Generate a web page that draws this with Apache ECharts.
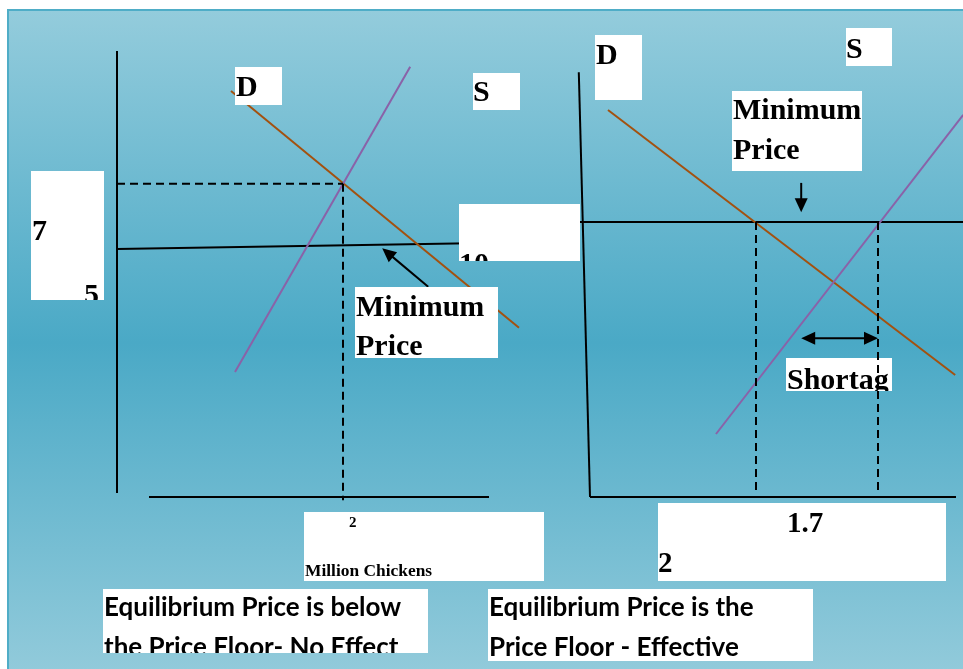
<!DOCTYPE html>
<html>
<head>
<meta charset="utf-8">
<script src="https://cdn.jsdelivr.net/npm/echarts@6/dist/echarts.min.js"></script>
<style>
html,body{margin:0;padding:0;background:#ffffff;}
#chart{width:963px;height:669px;}
</style>
</head>
<body>
<div id="chart"></div>
<script>
// ---------- DATA (axis units: quantity on x, price on y) ----------
// Left panel: price floor set below the equilibrium price (no effect)
const leftPriceAxisLine    = [[0, 0.09], [0, 9.91]];
const leftQuantityAxisLine = [[0.8, 0], [9.3, 0]];
const leftDemand           = [[2.85, 9.02], [10.05, 3.76]];
const leftSupply           = [[2.95, 2.78], [7.33, 9.56]];
const leftFloor            = [[0, 5.51], [8.83, 5.64]];
const leftEquilibrium      = [5.65, 6.96];          // [quantity, price]
const leftFloorArrow       = [7.78, 4.67, 6.63, 5.53];

// Right panel: price floor set above the equilibrium price (effective)
const rightPriceAxisLine    = [[-0.28, 9.44], [0, 0]];
const rightQuantityAxisLine = [[0, 0], [9.15, 0]];
const rightDemand           = [[0.45, 8.6], [9.13, 2.71]];
const rightSupply           = [[3.15, 1.4], [9.33, 8.49]];
const rightFloorPrice       = 6.11;
const rightFloorSpan        = [-0.25, 9.33];
const rightQuantityDemanded = 4.15;
const rightQuantitySupplied = 7.2;
const rightFloorArrow       = [5.28, 6.98, 5.28, 6.33];
const shortageArrow         = [5.28, 3.53, 7.2, 3.53];

// Texts
const curveLabels        = ['D', 'S'];
const leftPriceTicks     = ['7', '5'];
const leftFloorTick      = '10';
const leftQuantityTick   = '2';
const quantityUnit       = 'Million Chickens';
const floorLabelLines    = ['Minimum', 'Price'];
const shortageLabel      = 'Shortag';
const rightQuantityTicks = ['1.7', '2'];
const captionLeft        = ['Equilibrium Price is below', 'the Price Floor- No Effect'];
const captionRight       = ['Equilibrium Price is the', 'Price Floor - Effective'];

// ---------- LAYOUT ----------
const FONTS = {
  serif: {family: '"Liberation Serif", "Times New Roman", serif', mid: 0.234},
  sans:  {family: 'Lato, "Open Sans", sans-serif', mid: 0.31}
};
function txt(text, x, base, size, fam) { return {text, x, base, size, fam: fam || 'serif'}; }

const boxes = [
  // left panel
  {x: 235, y: 67,  w: 47,  h: 38,  texts: [txt(curveLabels[0], 236, 95, 30)]},
  {x: 473, y: 73,  w: 47,  h: 37,  texts: [txt(curveLabels[1], 473, 100, 30)]},
  {x: 31,  y: 171, w: 73,  h: 129, texts: [txt(leftPriceTicks[0], 32, 239, 30), txt(leftPriceTicks[1], 84, 303, 30)]},
  {x: 459, y: 204, w: 121, h: 57,  texts: [txt(leftFloorTick, 459, 272, 30)]},
  {x: 355, y: 287, w: 143, h: 71,  texts: [txt(floorLabelLines[0], 356, 315, 30), txt(floorLabelLines[1], 356, 354, 30)]},
  {x: 304, y: 512, w: 240, h: 69,  texts: [txt(leftQuantityTick, 349, 527, 15), txt(quantityUnit, 305, 576, 17.4)]},
  {x: 103, y: 589, w: 325, h: 64,  texts: [txt(captionLeft[0], 104, 616, 26, 'sans'), txt(captionLeft[1], 104, 656, 26, 'sans')]},
  // right panel
  {x: 595, y: 35,  w: 47,  h: 65,  texts: [txt(curveLabels[0], 596, 63, 30)]},
  {x: 846, y: 28,  w: 46,  h: 38,  texts: [txt(curveLabels[1], 846, 57, 30)]},
  {x: 732, y: 91,  w: 130, h: 80,  texts: [txt(floorLabelLines[0], 733, 118, 30), txt(floorLabelLines[1], 733, 158, 30)]},
  {x: 786, y: 358, w: 106, h: 33,  texts: [txt(shortageLabel, 787, 388, 30)]},
  {x: 658, y: 503, w: 288, h: 78,  texts: [txt(rightQuantityTicks[0], 787, 531, 29), txt(rightQuantityTicks[1], 658, 571, 29)]},
  {x: 488, y: 589, w: 325, h: 72,  texts: [txt(captionRight[0], 489, 616, 26, 'sans'), txt(captionRight[1], 489, 656, 26, 'sans')]}
];

const DEMAND_COLOR = '#A3510F';
const SUPPLY_COLOR = '#8A62A8';
const INK = '#000000';
const DASH = [8, 5];

function lineSeries(data, grid, color, dashed, z) {
  return {
    type: 'line', data: data, xAxisIndex: grid, yAxisIndex: grid,
    symbol: 'none', showSymbol: false, clip: false, silent: true, animation: false,
    z: z || 2,
    lineStyle: {color: color, width: 2, type: dashed ? DASH : 'solid'},
    emphasis: {disabled: true}
  };
}

function arrowRenderer(doubleHead) {
  return function (params, api) {
    const a = api.coord([api.value(0), api.value(1)]);
    const b = api.coord([api.value(2), api.value(3)]);
    const dx = b[0] - a[0], dy = b[1] - a[1];
    const len = Math.hypot(dx, dy) || 1;
    const ux = dx / len, uy = dy / len, nx = -uy, ny = ux;
    const L = 14, W = 6.5;
    function head(tip, sx, sy) {
      return {
        type: 'polygon',
        shape: {points: [
          [tip[0], tip[1]],
          [tip[0] - sx * L + nx * W, tip[1] - sy * L + ny * W],
          [tip[0] - sx * L - nx * W, tip[1] - sy * L - ny * W]
        ]},
        style: {fill: INK}
      };
    }
    const start = doubleHead ? [a[0] + ux * L * 0.8, a[1] + uy * L * 0.8] : a;
    const end = [b[0] - ux * L * 0.8, b[1] - uy * L * 0.8];
    const children = [
      {type: 'line', shape: {x1: start[0], y1: start[1], x2: end[0], y2: end[1]}, style: {stroke: INK, lineWidth: 2}},
      head(b, ux, uy)
    ];
    if (doubleHead) children.push(head(a, -ux, -uy));
    return {type: 'group', children: children};
  };
}

function arrowSeries(items, grid, doubleHead) {
  return {
    type: 'custom', coordinateSystem: 'cartesian2d', xAxisIndex: grid, yAxisIndex: grid,
    data: items, dimensions: ['x1', 'y1', 'x2', 'y2'],
    encode: {x: [0, 2], y: [1, 3]},
    renderItem: arrowRenderer(doubleHead), silent: true, animation: false, z: 4, clip: false
  };
}

function renderBox(params, api) {
  const b = boxes[params.dataIndex];
  const children = [{type: 'rect', shape: {x: b.x, y: b.y, width: b.w, height: b.h}, style: {fill: '#ffffff'}}];
  b.texts.forEach(function (t) {
    const f = FONTS[t.fam];
    children.push({
      type: 'text',
      x: t.x,
      y: t.base - f.mid * t.size,
      style: {
        text: t.text,
        font: 'bold ' + t.size + 'px ' + f.family,
        fill: INK,
        align: 'left', verticalAlign: 'middle',
        textAlign: 'left', textVerticalAlign: 'middle',
        lineHeight: t.size
      }
    });
  });
  return {
    type: 'group',
    clipPath: {type: 'rect', shape: {x: b.x, y: b.y, width: b.w, height: b.h}},
    children: children
  };
}

const axisHidden = {show: false};
function valueAxis(gridIndex, min, max) {
  return {type: 'value', gridIndex: gridIndex, min: min, max: max, show: false,
          splitLine: axisHidden, axisLine: axisHidden, axisTick: axisHidden, axisLabel: axisHidden};
}

const chart = echarts.init(document.getElementById('chart'), null, {renderer: 'canvas'});
chart.setOption({
  animation: false,
  backgroundColor: '#ffffff',
  graphic: {elements: [{
    type: 'rect', z: 0, silent: true,
    shape: {x: 8, y: 10, width: 962, height: 666},
    style: {
      fill: new echarts.graphic.LinearGradient(0, 0, 0, 1, [
        {offset: 0, color: '#94CCDC'},
        {offset: 0.5, color: '#4AA9C6'},
        {offset: 1, color: '#93CBDB'}
      ]),
      stroke: '#4FADC7', lineWidth: 2
    }
  }]},
  grid: [
    {left: 77,  top: 2, width: 480, height: 540, outerBoundsMode: 'none', containLabel: false},
    {left: 550, top: 2, width: 480, height: 540, outerBoundsMode: 'none', containLabel: false}
  ],
  xAxis: [valueAxis(0, -1, 11), valueAxis(1, -1, 11)],
  yAxis: [valueAxis(0, -1, 11), valueAxis(1, -1, 11)],
  series: [
    // left panel
    lineSeries(leftPriceAxisLine, 0, INK),
    lineSeries(leftQuantityAxisLine, 0, INK),
    lineSeries(leftFloor, 0, INK),
    lineSeries([[0, leftEquilibrium[1]], leftEquilibrium], 0, INK, true, 3),
    lineSeries([leftEquilibrium, [leftEquilibrium[0], -0.07]], 0, INK, true, 3),
    lineSeries(leftDemand, 0, DEMAND_COLOR),
    lineSeries(leftSupply, 0, SUPPLY_COLOR),
    arrowSeries([leftFloorArrow], 0, false),
    // right panel
    lineSeries(rightPriceAxisLine, 1, INK),
    lineSeries(rightQuantityAxisLine, 1, INK),
    lineSeries([[rightFloorSpan[0], rightFloorPrice], [rightFloorSpan[1], rightFloorPrice]], 1, INK),
    lineSeries(rightDemand, 1, DEMAND_COLOR),
    lineSeries(rightSupply, 1, SUPPLY_COLOR),
    lineSeries([[rightQuantityDemanded, rightFloorPrice], [rightQuantityDemanded, 0.11]], 1, INK, true, 6),
    lineSeries([[rightQuantitySupplied, rightFloorPrice], [rightQuantitySupplied, 0.11]], 1, INK, true, 6),
    arrowSeries([rightFloorArrow], 1, false),
    arrowSeries([shortageArrow], 1, true),
    // annotation boxes
    {type: 'custom', coordinateSystem: 'none', data: boxes.map(function (b, i) { return [i]; }),
     renderItem: renderBox, silent: true, animation: false, z: 5}
  ]
});
</script>
</body>
</html>
